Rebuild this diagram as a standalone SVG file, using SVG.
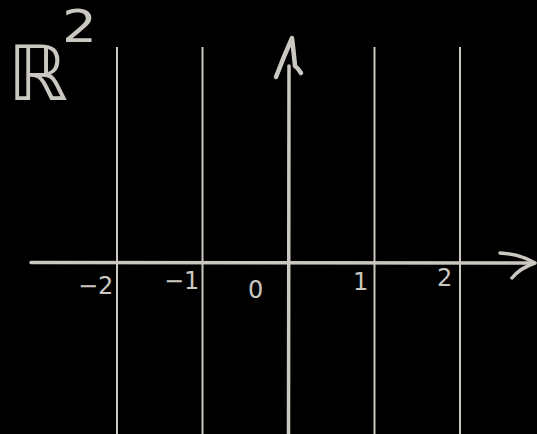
<svg xmlns="http://www.w3.org/2000/svg" width="537" height="434" viewBox="0 0 537 434">
<style>
.grid{stroke:#cbc8c1;stroke-width:2;fill:none}
.axis{stroke:#cbc8c1;stroke-width:3.5;fill:none;stroke-linecap:round;stroke-linejoin:round}
.lbl{fill:#cbc8c1;font-family:"DejaVu Sans","Liberation Sans",sans-serif;font-size:24px}
.big{font-size:76px}
.sup{font-size:44px}
</style>
<rect width="537" height="434" fill="#000"/>
<g id="connectors">
<line class="grid" x1="117" y1="47" x2="117" y2="434"/>
<line class="grid" x1="202.5" y1="47" x2="202.5" y2="434"/>
<line class="grid" x1="374.5" y1="47" x2="374.5" y2="434"/>
<line class="grid" x1="460" y1="47" x2="460" y2="434"/>
<path class="axis" d="M288.5 434 L289 66"/>
<path class="axis" d="M276 77 Q284 56 292 38 Q294 55 295 66 Q298 68 301 73" style="stroke-width:4.5"/>
<path class="axis" d="M31 262.5 L534 263"/>
<path class="axis" d="M500 253 Q520 254 535 263 Q520 268 512 278"/>
</g>
<g id="title"><text class="lbl big" x="8" y="100">ℝ</text><text class="lbl sup" transform="translate(62 42) scale(1.25 1)">2</text></g>
<g id="label-m2"><text class="lbl" x="78" y="294">−2</text></g>
<g id="label-m1"><text class="lbl" x="164" y="289">−1</text></g>
<g id="label-0"><text class="lbl" x="248" y="298">0</text></g>
<g id="label-1"><text class="lbl" x="353" y="290">1</text></g>
<g id="label-2"><text class="lbl" x="437" y="286">2</text></g>
</svg>
